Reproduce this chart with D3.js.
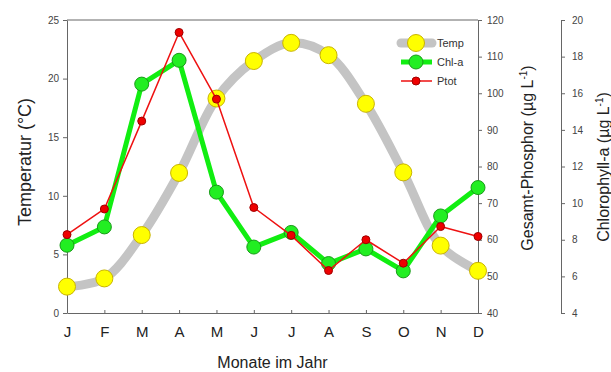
<!DOCTYPE html>
<html>
<head>
<meta charset="utf-8">
<script src="https://cdn.jsdelivr.net/npm/d3@7"></script>
<style>
  body { margin: 0; background: #fff; }
  svg { display: block; font-family: Arial, "Liberation Sans", sans-serif; }
  .tick text { fill: #444; font-size: 10px; }
  .domain, .tick line { stroke: #666; }
</style>
</head>
<body>
<div class="chart"></div>
<script>
// data
var months = ["J", "F", "M", "A", "M", "J", "J", "A", "S", "O", "N", "D"];
var temp = [2.25, 2.95, 6.65, 11.95, 18.3, 21.5, 23.05, 22.0, 17.85, 12.0, 5.75, 3.6];
var chla = [7.7, 8.7, 16.5, 17.8, 10.6, 7.6, 8.4, 6.7, 7.5, 6.3, 9.3, 10.85];
var ptot = [61.4, 68.4, 92.4, 116.6, 98.4, 68.8, 61.2, 51.6, 60.0, 53.6, 63.6, 60.9];
var tempTicks = [0, 5, 10, 15, 20, 25];
var pTicks = [40, 50, 60, 70, 80, 90, 100, 110, 120];
var chlTicks = [4, 6, 8, 10, 12, 14, 16, 18, 20];

var svgWidth = 611;
var svgHeight = 372;
var margin = { top: 20, right: 133, bottom: 59, left: 67 };
var width = svgWidth - margin.left - margin.right;
var height = svgHeight - margin.top - margin.bottom;

var svg = d3.select(".chart").append("svg")
  .attr("width", svgWidth)
  .attr("height", svgHeight);

var chart = svg.append("g")
  .attr("transform", "translate(" + margin.left + "," + margin.top + ")");

// scales
var x = d3.scalePoint().domain(d3.range(12)).range([0, width]);
var yT = d3.scaleLinear().domain([0, 25]).range([height, 0]);
var yP = d3.scaleLinear().domain([40, 120]).range([height, 0]);
var yC = d3.scaleLinear().domain([4, 20]).range([height, 0]);

// top frame line
chart.append("line")
  .attr("x1", 0).attr("x2", width).attr("y1", 0).attr("y2", 0)
  .attr("stroke", "#666");

// axes
chart.append("g")
  .call(d3.axisLeft(yT).tickValues(tempTicks).tickSize(4).tickSizeOuter(0).tickPadding(4));

chart.append("g")
  .attr("transform", "translate(" + width + ",0)")
  .call(d3.axisRight(yP).tickValues(pTicks).tickSize(4).tickSizeOuter(0).tickPadding(5));

chart.append("g")
  .attr("transform", "translate(" + (width + 83) + ",0)")
  .call(d3.axisRight(yC).tickValues(chlTicks).tickSize(4).tickSizeOuter(0).tickPadding(7));

var xAxis = chart.append("g")
  .attr("transform", "translate(0," + height + ")")
  .call(d3.axisBottom(x).tickSize(-3).tickSizeOuter(0).tickPadding(13)
    .tickFormat(function(i) { return months[i]; }));
xAxis.selectAll(".tick text").style("font-size", "15px").style("fill", "#222");

// axis titles
svg.append("text")
  .attr("transform", "translate(31,162) rotate(-90)")
  .attr("text-anchor", "middle")
  .style("font-size", "18px").style("fill", "#222")
  .text("Temperatur (°C)");

var pLab = svg.append("text")
  .attr("transform", "translate(533,158) rotate(-90)")
  .attr("text-anchor", "middle")
  .style("font-size", "16px").style("fill", "#222");
pLab.append("tspan").text("Gesamt-Phosphor (µg L");
pLab.append("tspan").attr("dy", -6).style("font-size", "10px").text("-1");
pLab.append("tspan").attr("dy", 6).text(")");

var cLab = svg.append("text")
  .attr("transform", "translate(609,167) rotate(-90)")
  .attr("text-anchor", "middle")
  .style("font-size", "16px").style("fill", "#222");
cLab.append("tspan").text("Chlorophyll-a (µg L");
cLab.append("tspan").attr("dy", -6).style("font-size", "10px").text("-1");
cLab.append("tspan").attr("dy", 6).text(")");

svg.append("text")
  .attr("x", margin.left + width / 2).attr("y", 368)
  .attr("text-anchor", "middle")
  .style("font-size", "16px").style("fill", "#222")
  .text("Monate im Jahr");

// series
var series = [
  { name: "Temp", values: temp, y: yT, line: "#c4c4c4", lw: 9, fill: "#ffff00", stroke: "#c9b400", r: 8.5, curve: d3.curveCatmullRom },
  { name: "Chl-a", values: chla, y: yC, line: "#11ee11", lw: 5, fill: "#22ee22", stroke: "#1a9a1a", r: 7, curve: d3.curveLinear },
  { name: "Ptot", values: ptot, y: yP, line: "#ee1111", lw: 1.5, fill: "#ee0000", stroke: "#a00000", r: 4, curve: d3.curveLinear }
];

series.forEach(function(s) {
  var line = d3.line()
    .x(function(d, i) { return x(i); })
    .y(function(d) { return s.y(d); })
    .curve(s.curve);

  chart.append("path")
    .datum(s.values)
    .attr("d", line)
    .attr("fill", "none")
    .attr("stroke", s.line)
    .attr("stroke-width", s.lw)
    .attr("stroke-linejoin", "round");

  chart.selectAll(null)
    .data(s.values)
    .enter()
    .append("circle")
    .attr("cx", function(d, i) { return x(i); })
    .attr("cy", function(d) { return s.y(d); })
    .attr("r", s.r)
    .attr("fill", s.fill)
    .attr("stroke", s.stroke)
    .attr("stroke-width", 1);
});

// legend
var legend = svg.append("g");
series.forEach(function(s, i) {
  var ly = 43 + i * 19;
  legend.append("line")
    .attr("x1", 401).attr("x2", 432).attr("y1", ly).attr("y2", ly)
    .attr("stroke", s.line).attr("stroke-width", s.lw)
    .attr("stroke-linecap", i === 0 ? "round" : "butt");
  legend.append("circle")
    .attr("cx", 416).attr("cy", ly).attr("r", s.r)
    .attr("fill", s.fill).attr("stroke", s.stroke);
  legend.append("text")
    .attr("x", 437).attr("y", ly + 4)
    .style("font-size", "11px").style("fill", "#333")
    .text(s.name);
});
</script>
</body>
</html>
